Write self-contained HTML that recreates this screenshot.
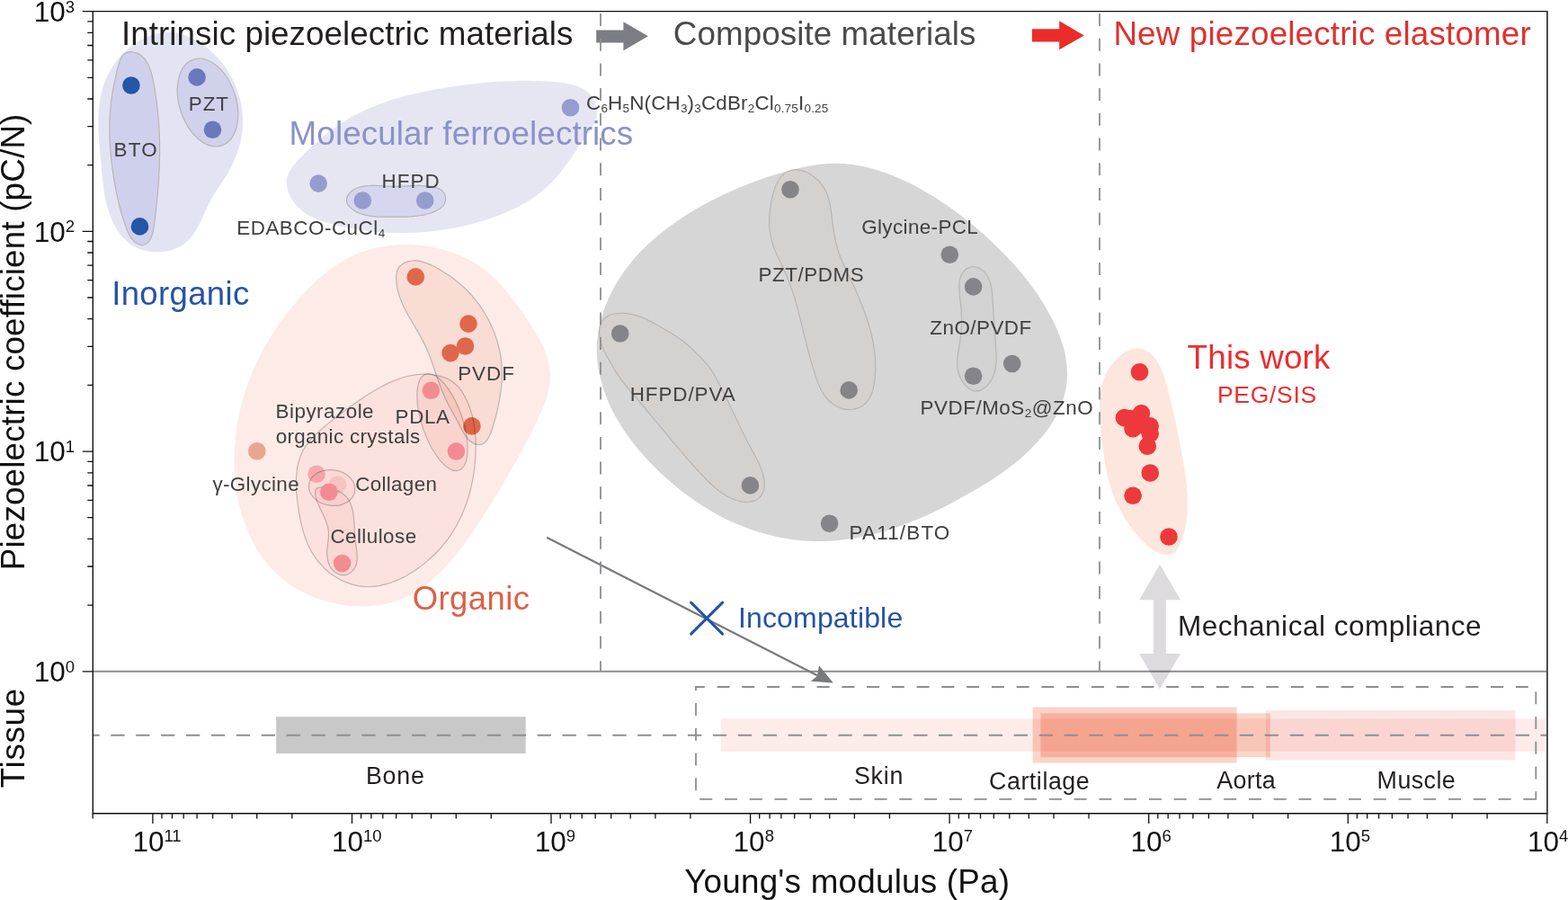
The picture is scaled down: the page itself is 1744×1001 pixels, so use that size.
<!DOCTYPE html>
<html><head><meta charset="utf-8"><title>Piezoelectric coefficient vs Young's modulus</title>
<style>
html,body{margin:0;padding:0;background:#fff;}
body{width:1744px;height:1001px;overflow:hidden;}
svg{display:block;font-family:'Liberation Sans', Arial, Helvetica, sans-serif;font-variant-ligatures:none;}
</style></head>
<body>
<svg width="1744" height="1001" viewBox="0 0 1744 1001">
<rect width="1744" height="1001" fill="#fff"/>
<path d="M185.5,36 C187.8,36 190,36.1 192.3,36.3 C194.5,36.6 196.8,36.9 199,37.4 C201.2,37.9 203.5,38.6 205.6,39.3 C207.8,40.1 210,40.9 212.2,41.9 C214.3,42.9 216.4,44 218.5,45.1 C220.6,46.3 222.6,47.6 224.6,49 C226.7,50.3 228.6,51.8 230.5,53.3 C232.4,54.9 234.3,56.5 236.1,58.2 C237.9,59.8 239.7,61.6 241.4,63.4 C243,65.2 244.7,67.1 246.2,69 C247.8,70.9 249.2,72.8 250.6,74.8 C252.1,76.8 253.4,78.9 254.6,81 C255.9,83.1 257.1,85.2 258.2,87.3 C259.3,89.5 260.4,91.7 261.3,93.9 C262.3,96.1 263.2,98.4 264,100.6 C264.8,102.9 265.5,105.2 266.2,107.5 C266.8,109.8 267.4,112.1 267.9,114.4 C268.4,116.8 268.8,119.1 269.1,121.5 C269.4,123.8 269.7,126.2 269.8,128.5 C270,130.9 270.1,133.2 270.1,135.6 C270.1,138 270,140.3 269.8,142.6 C269.6,145 269.4,147.3 269,149.6 C268.7,152 268.3,154.3 267.8,156.6 C267.3,158.8 266.7,161.1 266,163.4 C265.4,165.6 264.7,167.9 263.9,170.1 C263.1,172.3 262.2,174.5 261.3,176.7 C260.4,178.8 259.4,181 258.4,183.1 C257.4,185.2 256.3,187.3 255.1,189.4 C254,191.5 252.8,193.5 251.6,195.5 C250.4,197.5 249.1,199.4 247.8,201.4 C246.5,203.4 245.2,205.3 243.9,207.2 C242.6,209.2 241.2,211.2 240,213.2 C238.7,215.2 237.5,217.2 236.3,219.3 C235.1,221.4 234,223.5 232.9,225.7 C231.8,227.9 230.7,230.1 229.7,232.3 C228.7,234.5 227.7,236.8 226.6,239 C225.6,241.2 224.6,243.5 223.5,245.7 C222.5,247.8 221.4,250 220.2,252.1 C219.1,254.2 217.9,256.2 216.6,258.1 C215.4,260.1 214,262 212.6,263.7 C211.2,265.5 209.6,267.1 208,268.6 C206.3,270.1 204.5,271.5 202.6,272.8 C200.7,274 198.7,275.1 196.6,276 C194.4,276.9 192.2,277.7 189.9,278.4 C187.6,279 185.2,279.5 182.8,279.8 C180.4,280.1 178,280.3 175.5,280.3 C173.1,280.4 170.6,280.2 168.2,280 C165.8,279.7 163.3,279.3 161,278.7 C158.6,278.1 156.3,277.3 154.1,276.4 C151.8,275.6 149.7,274.5 147.6,273.3 C145.6,272.1 143.7,270.7 141.9,269.2 C140.1,267.7 138.4,266.1 136.8,264.3 C135.2,262.6 133.7,260.7 132.3,258.8 C130.9,256.8 129.6,254.7 128.4,252.6 C127.2,250.5 126.1,248.3 125.1,246.1 C124.1,243.8 123.1,241.5 122.3,239.2 C121.4,236.9 120.7,234.5 120,232.1 C119.3,229.8 118.7,227.4 118.1,225.1 C117.5,222.7 117.1,220.4 116.6,218.1 C116.2,215.8 115.8,213.5 115.5,211.2 C115.2,208.9 114.9,206.6 114.6,204.3 C114.3,202 114.1,199.7 113.9,197.4 C113.6,195.1 113.4,192.8 113.2,190.5 C113,188.2 112.8,185.9 112.6,183.5 C112.4,181.2 112.1,178.8 111.9,176.4 C111.7,174.1 111.4,171.7 111.2,169.3 C111,166.9 110.8,164.5 110.6,162 C110.4,159.6 110.2,157.2 110,154.8 C109.9,152.4 109.7,149.9 109.6,147.5 C109.5,145.1 109.5,142.7 109.4,140.2 C109.4,137.8 109.4,135.4 109.4,133 C109.5,130.6 109.5,128.2 109.7,125.8 C109.8,123.4 110,121 110.2,118.6 C110.5,116.3 110.8,113.9 111.2,111.6 C111.5,109.2 112,106.9 112.5,104.6 C113,102.3 113.6,100 114.3,97.7 C114.9,95.5 115.7,93.2 116.5,91 C117.4,88.8 118.3,86.6 119.3,84.5 C120.3,82.3 121.5,80.2 122.7,78.1 C123.9,76 125.2,73.9 126.6,71.9 C128,69.9 129.5,68 131,66.1 C132.6,64.2 134.2,62.3 135.9,60.6 C137.6,58.8 139.4,57.1 141.2,55.4 C143,53.8 144.9,52.3 146.9,50.8 C148.8,49.3 150.8,47.9 152.8,46.7 C154.9,45.4 157,44.2 159.1,43.1 C161.2,42 163.3,41.1 165.5,40.2 C167.7,39.4 169.9,38.6 172.1,38 C174.3,37.4 176.5,37 178.8,36.6 C181,36.3 183.3,36.1 185.5,36Z" fill="#e3e4f3"/>
<path d="M148.6,58.1 C150.2,58.3 151.7,58.8 153.1,59.4 C154.5,60.1 155.8,60.8 157,61.7 C158.2,62.6 159.3,63.7 160.3,64.8 C161.3,66 162.2,67.3 163,68.6 C163.9,70 164.6,71.5 165.3,73 C166,74.5 166.7,76.2 167.2,77.8 C167.8,79.5 168.3,81.3 168.8,83 C169.3,84.8 169.7,86.7 170.1,88.5 C170.5,90.3 170.9,92.2 171.2,94.1 C171.5,95.9 171.9,97.8 172.2,99.7 C172.5,101.5 172.7,103.4 173,105.2 C173.3,107 173.5,108.8 173.8,110.6 C174,112.4 174.3,114.2 174.5,116 C174.7,117.8 174.9,119.5 175.1,121.3 C175.3,123 175.5,124.8 175.6,126.5 C175.8,128.2 176,129.9 176.1,131.7 C176.3,133.4 176.4,135.1 176.5,136.8 C176.6,138.5 176.8,140.2 176.9,141.9 C177,143.5 177,145.2 177.1,146.9 C177.2,148.6 177.3,150.3 177.3,151.9 C177.4,153.6 177.4,155.3 177.5,157 C177.5,158.6 177.5,160.3 177.6,162 C177.6,163.6 177.6,165.3 177.6,167 C177.6,168.7 177.6,170.3 177.6,172 C177.5,173.7 177.5,175.4 177.5,177.1 C177.4,178.7 177.4,180.4 177.3,182.1 C177.3,183.8 177.2,185.5 177.2,187.2 C177.1,188.9 177,190.7 176.9,192.4 C176.8,194.1 176.7,195.8 176.6,197.5 C176.5,199.2 176.4,201 176.3,202.7 C176.2,204.4 176.1,206.2 175.9,207.9 C175.8,209.6 175.7,211.4 175.5,213.1 C175.4,214.9 175.2,216.6 175.1,218.4 C174.9,220.1 174.7,221.9 174.5,223.7 C174.4,225.4 174.2,227.2 174,228.9 C173.8,230.7 173.6,232.5 173.4,234.3 C173.2,236 173,237.8 172.8,239.6 C172.6,241.4 172.4,243.2 172.1,245 C171.9,246.7 171.7,248.5 171.4,250.3 C171.2,252.1 171,253.9 170.6,255.7 C170.3,257.4 169.9,259.1 169.4,260.7 C168.9,262.4 168.3,264 167.6,265.4 C166.8,266.8 165.8,268.2 164.7,269.3 C163.6,270.4 162.3,271.5 160.9,272 C159.6,272.5 158,272.7 156.5,272.5 C155,272.2 153.4,271.5 152,270.6 C150.7,269.8 149.3,268.6 148.2,267.3 C147,266.1 145.9,264.6 145,263.1 C144,261.6 143.2,259.9 142.4,258.2 C141.6,256.5 140.9,254.7 140.2,252.9 C139.6,251.2 139,249.4 138.4,247.6 C137.8,245.9 137.2,244.1 136.7,242.4 C136.2,240.7 135.6,239 135.2,237.4 C134.7,235.7 134.2,234.1 133.8,232.4 C133.3,230.8 132.9,229.2 132.5,227.5 C132.1,225.9 131.7,224.3 131.3,222.7 C131,221.1 130.6,219.4 130.3,217.8 C129.9,216.2 129.6,214.6 129.2,212.9 C128.9,211.3 128.6,209.6 128.3,207.9 C128,206.2 127.7,204.6 127.4,202.9 C127.1,201.2 126.8,199.5 126.5,197.7 C126.2,196 126,194.3 125.7,192.6 C125.5,190.8 125.2,189.1 125,187.4 C124.8,185.6 124.5,183.9 124.3,182.1 C124.1,180.4 123.9,178.6 123.7,176.8 C123.6,175.1 123.4,173.3 123.2,171.6 C123.1,169.8 122.9,168.1 122.8,166.3 C122.6,164.5 122.5,162.8 122.4,161 C122.3,159.3 122.2,157.5 122.1,155.8 C122.1,154.1 122,152.3 122,150.6 C121.9,148.9 121.9,147.1 121.9,145.4 C121.8,143.7 121.8,142 121.9,140.3 C121.9,138.6 121.9,136.9 122,135.3 C122,133.6 122.1,131.9 122.2,130.3 C122.2,128.6 122.3,126.9 122.5,125.3 C122.6,123.6 122.7,122 122.9,120.3 C123,118.6 123.2,117 123.4,115.3 C123.6,113.7 123.8,112 124,110.3 C124.3,108.6 124.5,107 124.8,105.3 C125,103.6 125.3,101.9 125.6,100.1 C125.9,98.4 126.3,96.7 126.6,95 C126.9,93.2 127.3,91.5 127.7,89.7 C128.1,87.9 128.5,86.1 128.9,84.3 C129.3,82.4 129.8,80.6 130.2,78.7 C130.7,76.9 131.2,74.9 131.7,73.1 C132.2,71.2 132.8,69.2 133.5,67.5 C134.1,65.8 134.9,64 135.8,62.7 C136.7,61.3 137.8,60.1 139.1,59.3 C140.4,58.4 142,58 143.6,57.8 C145.2,57.6 147,57.8 148.6,58.1Z" fill="#cfd1ec" stroke="#b9b5b4" stroke-width="1.2"/>
<ellipse cx="231" cy="114" rx="31.5" ry="50.4" transform="rotate(-18 231 114)" fill="#d0d2ec" stroke="#b9b5b4" stroke-width="1.2"/>
<path d="M318.7,204.7 C318.5,201.7 318.9,198.8 319.7,196 C320.5,193.3 321.9,190.7 323.4,188.2 C325,185.6 327,183.2 329,180.9 C331,178.5 333.3,176.2 335.6,174 C337.8,171.7 340.1,169.5 342.3,167.3 C344.6,165.1 346.9,163 349.2,160.9 C351.6,158.8 353.9,156.7 356.3,154.7 C358.6,152.7 361,150.7 363.4,148.8 C365.8,146.9 368.3,145 370.8,143.2 C373.2,141.4 375.7,139.7 378.3,138 C380.8,136.3 383.4,134.7 386,133.1 C388.6,131.5 391.2,130 393.9,128.6 C396.5,127.2 399.2,125.8 402,124.5 C404.7,123.1 407.5,121.9 410.2,120.7 C413,119.4 415.8,118.3 418.7,117.2 C421.5,116.1 424.4,115 427.3,114 C430.1,113 433,112 435.9,111.1 C438.9,110.2 441.8,109.3 444.7,108.5 C447.7,107.6 450.7,106.8 453.6,106.1 C456.6,105.3 459.6,104.6 462.6,103.9 C465.6,103.2 468.6,102.5 471.6,101.9 C474.6,101.3 477.6,100.7 480.7,100.1 C483.7,99.5 486.7,99 489.7,98.5 C492.8,98 495.8,97.5 498.8,97 C501.8,96.5 504.9,96 507.9,95.6 C510.9,95.2 513.9,94.7 516.9,94.4 C519.9,94 523,93.6 526,93.2 C529,92.9 532,92.5 535,92.2 C538.1,91.9 541.1,91.7 544.1,91.4 C547.1,91.2 550.2,90.9 553.2,90.7 C556.2,90.5 559.3,90.4 562.3,90.2 C565.4,90.1 568.4,90 571.5,89.9 C574.5,89.8 577.6,89.8 580.7,89.8 C583.7,89.7 586.8,89.8 589.9,89.8 C593,89.9 596.1,90 599.2,90.1 C602.3,90.2 605.5,90.4 608.6,90.6 C611.8,90.8 614.9,91 618.1,91.3 C621.2,91.6 624.4,91.8 627.5,92.3 C630.6,92.7 633.8,93.2 636.7,94 C639.6,94.8 642.5,95.6 645.2,96.9 C647.8,98.1 650.3,99.5 652.6,101.3 C654.8,103.2 656.8,105.3 658.5,107.9 C660.2,110.4 661.7,113.6 662.5,116.6 C663.4,119.7 663.9,123 663.8,126 C663.8,129 663.1,131.8 662.2,134.6 C661.2,137.3 659.8,139.9 658.3,142.5 C656.8,145.1 654.9,147.6 653.1,150.1 C651.3,152.7 649.3,155.2 647.5,157.8 C645.7,160.3 643.9,163 642.1,165.6 C640.3,168.2 638.5,170.8 636.7,173.4 C634.9,176 633.2,178.6 631.3,181.1 C629.5,183.7 627.7,186.2 625.8,188.7 C623.9,191.1 622,193.5 620,195.8 C618,198.2 616,200.4 613.8,202.6 C611.7,204.7 609.5,206.8 607.2,208.8 C605,210.8 602.7,212.7 600.3,214.6 C597.9,216.4 595.5,218.2 593,219.9 C590.5,221.6 587.9,223.2 585.4,224.7 C582.8,226.3 580.1,227.8 577.5,229.2 C574.8,230.6 572.1,232 569.3,233.3 C566.6,234.6 563.8,235.8 561,237 C558.2,238.2 555.4,239.3 552.5,240.4 C549.6,241.5 546.7,242.5 543.8,243.4 C540.9,244.4 538,245.3 535,246.2 C532.1,247.1 529.2,247.9 526.2,248.7 C523.2,249.5 520.2,250.2 517.3,250.9 C514.3,251.6 511.3,252.3 508.3,252.9 C505.3,253.5 502.2,254.1 499.2,254.6 C496.2,255.1 493.2,255.6 490.1,256 C487.1,256.5 484.1,256.8 481,257.2 C478,257.5 474.9,257.8 471.8,258.1 C468.8,258.3 465.7,258.5 462.7,258.7 C459.6,258.9 456.5,259 453.5,259 C450.4,259.1 447.3,259.1 444.2,259.1 C441.2,259.1 438.1,259 435,258.9 C432,258.8 428.9,258.6 425.8,258.4 C422.7,258.2 419.7,258 416.6,257.7 C413.5,257.4 410.5,257 407.4,256.7 C404.4,256.3 401.3,255.8 398.2,255.4 C395.2,254.9 392.2,254.3 389.1,253.8 C386.1,253.2 383,252.6 380,251.9 C377,251.3 374,250.6 371,249.8 C368,249 365,248.2 362,247.3 C359.1,246.4 356.2,245.4 353.4,244.3 C350.6,243.1 347.8,241.9 345.2,240.5 C342.6,239.1 340,237.5 337.7,235.8 C335.3,234 333,232.1 331,229.9 C328.9,227.7 327,225.3 325.3,222.7 C323.6,220 322,217 320.9,213.9 C319.8,210.9 318.9,207.6 318.7,204.7Z" fill="#e6e6f3"/>
<path d="M385.6,224.3 C385.4,223.5 385.4,222.6 385.5,221.8 C385.6,220.9 385.8,220.1 386.1,219.2 C386.4,218.4 386.9,217.6 387.3,216.8 C387.8,216 388.4,215.2 389,214.5 C389.7,213.8 390.4,213.1 391.1,212.5 C391.9,211.9 392.7,211.3 393.5,210.9 C394.3,210.4 395.2,209.9 396.1,209.5 C397,209.2 398,208.8 398.9,208.5 C399.9,208.2 400.8,208 401.8,207.7 C402.8,207.5 403.8,207.3 404.7,207.2 C405.7,207 406.7,206.9 407.6,206.7 C408.6,206.6 409.6,206.5 410.5,206.5 C411.5,206.4 412.4,206.4 413.3,206.3 C414.3,206.3 415.2,206.3 416.1,206.3 C417.1,206.3 418,206.3 418.9,206.4 C419.9,206.4 420.8,206.4 421.7,206.5 C422.6,206.5 423.5,206.6 424.4,206.7 C425.4,206.7 426.3,206.8 427.2,206.8 C428.1,206.9 429,207 429.9,207 C430.8,207.1 431.7,207.1 432.6,207.2 C433.5,207.2 434.4,207.3 435.3,207.3 C436.2,207.3 437.2,207.4 438.1,207.4 C439,207.4 439.9,207.4 440.8,207.4 C441.7,207.4 442.6,207.3 443.5,207.3 C444.4,207.3 445.3,207.2 446.3,207.2 C447.2,207.2 448.1,207.1 449,207.1 C449.9,207 450.8,207 451.8,206.9 C452.7,206.9 453.6,206.8 454.5,206.8 C455.5,206.7 456.4,206.7 457.3,206.6 C458.3,206.6 459.2,206.6 460.1,206.5 C461.1,206.5 462,206.5 463,206.5 C463.9,206.4 464.9,206.4 465.8,206.4 C466.8,206.4 467.7,206.5 468.7,206.5 C469.6,206.5 470.6,206.6 471.6,206.6 C472.5,206.7 473.5,206.8 474.5,206.9 C475.4,207 476.4,207.1 477.4,207.2 C478.4,207.3 479.4,207.5 480.4,207.7 C481.4,207.8 482.4,208 483.3,208.3 C484.3,208.5 485.3,208.8 486.2,209.1 C487.1,209.4 488,209.7 488.9,210.2 C489.7,210.6 490.5,211 491.2,211.6 C491.9,212.1 492.5,212.7 493,213.4 C493.6,214.1 494,214.8 494.4,215.6 C494.8,216.3 495,217.2 495.2,218 C495.4,218.8 495.6,219.7 495.6,220.5 C495.6,221.3 495.6,222.1 495.5,222.9 C495.3,223.7 495.1,224.5 494.9,225.2 C494.6,225.9 494.3,226.6 493.9,227.3 C493.5,227.9 493,228.5 492.5,229.2 C492,229.8 491.4,230.3 490.7,230.9 C490.1,231.4 489.4,231.9 488.7,232.4 C488,232.9 487.2,233.4 486.4,233.8 C485.6,234.3 484.7,234.7 483.8,235.1 C483,235.5 482,235.9 481.1,236.2 C480.2,236.6 479.2,236.9 478.2,237.2 C477.2,237.5 476.2,237.8 475.2,238 C474.2,238.3 473.2,238.5 472.1,238.8 C471.1,239 470,239.2 469,239.4 C467.9,239.6 466.9,239.8 465.9,239.9 C464.8,240.1 463.8,240.2 462.8,240.3 C461.8,240.4 460.7,240.6 459.8,240.6 C458.8,240.7 457.8,240.8 456.9,240.9 C455.9,241 455,241 454.1,241.1 C453.2,241.1 452.3,241.1 451.4,241.2 C450.5,241.2 449.6,241.2 448.8,241.2 C447.9,241.2 447.1,241.2 446.2,241.2 C445.4,241.2 444.5,241.2 443.6,241.2 C442.8,241.2 441.9,241.2 441.1,241.2 C440.2,241.2 439.3,241.2 438.4,241.2 C437.6,241.2 436.7,241.2 435.7,241.2 C434.8,241.2 433.9,241.2 433,241.2 C432,241.2 431.1,241.2 430.1,241.2 C429.2,241.2 428.2,241.2 427.3,241.2 C426.3,241.2 425.3,241.2 424.4,241.2 C423.4,241.1 422.4,241.1 421.4,241.1 C420.5,241 419.5,241 418.5,240.9 C417.5,240.8 416.5,240.7 415.6,240.6 C414.6,240.6 413.6,240.4 412.7,240.3 C411.7,240.2 410.7,240 409.8,239.9 C408.8,239.7 407.9,239.5 407,239.3 C406,239.1 405.1,238.9 404.2,238.6 C403.3,238.4 402.4,238.1 401.5,237.8 C400.6,237.5 399.8,237.1 398.9,236.8 C398.1,236.4 397.2,236 396.4,235.6 C395.6,235.2 394.8,234.7 394,234.2 C393.3,233.7 392.5,233.2 391.8,232.6 C391.1,232.1 390.3,231.5 389.7,230.9 C389,230.2 388.4,229.6 387.8,228.9 C387.3,228.2 386.8,227.4 386.4,226.7 C386,225.9 385.7,225.1 385.6,224.3Z" fill="#d6d7ee" stroke="#b9b5b4" stroke-width="1.2"/>
<path d="M463.4,272.4 C467.7,272.7 472.1,273.2 476.3,273.9 C480.6,274.6 484.8,275.4 489,276.5 C493.2,277.5 497.3,278.7 501.3,280.1 C505.3,281.5 509.3,283 513.1,284.8 C517,286.5 520.8,288.4 524.4,290.5 C528.1,292.6 531.7,294.9 535.1,297.3 C538.6,299.7 541.9,302.3 545.1,305.1 C548.3,307.9 551.4,310.8 554.4,313.9 C557.4,317 560.2,320.2 563,323.5 C565.8,326.9 568.5,330.3 571.2,333.9 C573.8,337.4 576.4,341 579,344.6 C581.5,348.3 584.1,352 586.6,355.7 C589.1,359.4 591.6,363.2 593.9,367 C596.2,370.7 598.5,374.5 600.6,378.4 C602.6,382.2 604.5,386.1 606,390 C607.6,393.9 608.9,397.9 609.9,401.8 C610.8,405.8 611.4,409.9 611.7,413.9 C611.9,418 611.8,422 611.4,426.1 C610.9,430.2 610.1,434.3 609,438.4 C607.9,442.5 606.5,446.6 605,450.7 C603.4,454.8 601.6,458.9 599.8,463 C598,467 596,471.1 594,475.1 C592,479.1 590,483.1 588,487 C585.9,491 583.8,494.9 581.8,498.7 C579.7,502.5 577.6,506.3 575.6,510 C573.5,513.8 571.5,517.4 569.4,521.1 C567.3,524.7 565.3,528.3 563.2,531.9 C561.1,535.5 559,539.1 556.9,542.7 C554.7,546.2 552.6,549.8 550.4,553.4 C548.2,557 546,560.6 543.7,564.2 C541.4,567.9 539.1,571.5 536.8,575.2 C534.4,578.9 532,582.6 529.6,586.3 C527.1,590 524.6,593.7 522,597.4 C519.5,601 516.8,604.7 514.1,608.2 C511.4,611.8 508.7,615.3 505.9,618.7 C503,622.2 500.1,625.5 497.1,628.8 C494.2,632 491.1,635.1 488,638.1 C484.8,641.1 481.6,644 478.3,646.7 C475,649.5 471.6,652 468.1,654.4 C464.6,656.8 461.1,659 457.4,661 C453.7,663 449.9,664.8 446,666.4 C442.2,667.9 438.2,669.3 434.1,670.4 C430,671.5 425.8,672.3 421.6,673 C417.4,673.6 413.1,674.1 408.8,674.3 C404.5,674.5 400.1,674.5 395.7,674.3 C391.4,674.1 387,673.6 382.6,673 C378.3,672.4 373.9,671.6 369.6,670.6 C365.4,669.6 361.1,668.4 356.9,667 C352.8,665.6 348.6,664 344.6,662.3 C340.6,660.5 336.7,658.6 332.9,656.5 C329.1,654.4 325.4,652.2 321.9,649.7 C318.4,647.3 315,644.7 311.8,642 C308.6,639.2 305.6,636.3 302.7,633.3 C299.8,630.3 297.1,627.1 294.6,623.8 C292,620.5 289.6,617.1 287.4,613.6 C285.1,610 283,606.4 281.1,602.6 C279.1,598.9 277.3,595.1 275.7,591.1 C274,587.2 272.5,583.2 271.1,579.1 C269.7,575.1 268.5,570.9 267.4,566.7 C266.3,562.5 265.4,558.3 264.6,554 C263.7,549.7 263.1,545.3 262.5,540.9 C261.9,536.6 261.5,532.2 261.2,527.7 C260.9,523.3 260.7,518.9 260.7,514.5 C260.6,510 260.7,505.6 260.9,501.2 C261.1,496.8 261.4,492.3 261.8,488 C262.2,483.6 262.8,479.2 263.4,474.9 C264.1,470.6 264.8,466.3 265.7,462 C266.6,457.8 267.5,453.6 268.6,449.4 C269.7,445.3 270.9,441.1 272.2,437 C273.4,432.9 274.8,428.9 276.3,424.9 C277.8,420.9 279.4,416.9 281,413 C282.7,409.1 284.5,405.2 286.3,401.3 C288.2,397.5 290.1,393.7 292.1,389.9 C294.1,386.2 296.3,382.5 298.4,378.8 C300.6,375.1 302.9,371.5 305.3,367.9 C307.6,364.3 310,360.8 312.6,357.3 C315.1,353.8 317.6,350.4 320.3,347 C322.9,343.6 325.7,340.3 328.4,337 C331.2,333.7 334.1,330.4 337,327.2 C339.9,324.1 342.9,320.9 346,317.9 C349.1,314.8 352.2,311.8 355.4,309 C358.7,306.1 362,303.4 365.4,300.8 C368.8,298.2 372.3,295.7 375.9,293.4 C379.5,291.1 383.2,288.9 387,286.9 C390.8,285 394.8,283.2 398.8,281.6 C402.8,280.1 407,278.7 411.2,277.5 C415.3,276.3 419.6,275.3 424,274.5 C428.3,273.7 432.7,273.1 437,272.7 C441.4,272.3 445.9,272.1 450.2,272 C454.6,272 459,272.1 463.4,272.4Z" fill="#fdebe7"/>
<path d="M453.8,290.9 C455.5,290.4 457.3,290.2 459.1,290 C460.9,289.9 462.7,290 464.6,290.2 C466.4,290.4 468.2,290.8 470,291.3 C471.9,291.8 473.7,292.4 475.5,293.1 C477.4,293.8 479.2,294.6 481,295.5 C482.8,296.3 484.6,297.3 486.4,298.3 C488.1,299.3 489.9,300.3 491.6,301.4 C493.3,302.4 494.9,303.5 496.5,304.6 C498.2,305.7 499.7,306.7 501.3,307.8 C502.8,308.9 504.3,310 505.8,311.1 C507.2,312.2 508.7,313.3 510.1,314.5 C511.5,315.6 512.8,316.8 514.2,318 C515.5,319.1 516.8,320.4 518.1,321.6 C519.4,322.9 520.7,324.2 521.9,325.5 C523.2,326.8 524.4,328.2 525.6,329.6 C526.8,331 528,332.4 529.1,333.8 C530.3,335.3 531.4,336.8 532.5,338.3 C533.6,339.8 534.7,341.3 535.7,342.9 C536.7,344.5 537.7,346.1 538.7,347.7 C539.7,349.3 540.6,350.9 541.6,352.5 C542.5,354.2 543.4,355.9 544.2,357.6 C545.1,359.2 545.9,360.9 546.6,362.7 C547.4,364.4 548.2,366.1 548.9,367.9 C549.6,369.6 550.3,371.4 550.9,373.1 C551.5,374.9 552.1,376.7 552.7,378.5 C553.2,380.3 553.8,382 554.2,383.8 C554.7,385.6 555.1,387.4 555.5,389.2 C555.9,391 556.3,392.9 556.6,394.7 C556.9,396.5 557.2,398.3 557.4,400.1 C557.6,401.9 557.8,403.7 557.9,405.5 C558.1,407.3 558.2,409.2 558.2,411 C558.3,412.8 558.3,414.6 558.3,416.4 C558.3,418.3 558.3,420.1 558.2,421.9 C558.1,423.8 558,425.6 557.8,427.5 C557.7,429.3 557.5,431.1 557.3,433 C557.1,434.9 556.8,436.7 556.5,438.6 C556.3,440.4 556,442.3 555.6,444.2 C555.3,446.1 554.9,448 554.5,449.8 C554.2,451.7 553.7,453.6 553.3,455.5 C552.9,457.4 552.4,459.4 551.9,461.3 C551.4,463.2 550.9,465.1 550.3,467.1 C549.8,469 549.3,471 548.7,472.9 C548.1,474.9 547.5,476.8 546.8,478.7 C546.2,480.5 545.5,482.4 544.7,484 C543.9,485.7 543.1,487.3 542.2,488.6 C541.3,490 540.3,491.2 539.2,492.1 C538.1,493 536.9,493.8 535.6,494.2 C534.3,494.6 532.8,494.7 531.3,494.4 C529.8,494.2 528.1,493.7 526.5,492.9 C525,492.1 523.4,491 522.1,489.8 C520.7,488.6 519.5,487.1 518.3,485.5 C517.1,484 516.1,482.2 515.1,480.5 C514,478.7 513.1,476.8 512.1,475 C511.2,473.2 510.3,471.3 509.4,469.5 C508.4,467.7 507.5,465.9 506.6,464.2 C505.6,462.5 504.7,460.8 503.8,459.2 C502.9,457.5 502,455.9 501.1,454.3 C500.2,452.6 499.3,451 498.5,449.4 C497.6,447.8 496.8,446.2 496,444.6 C495.2,442.9 494.5,441.3 493.7,439.6 C493,437.9 492.3,436.3 491.6,434.6 C491,432.9 490.3,431.2 489.7,429.5 C489,427.8 488.4,426 487.8,424.3 C487.2,422.6 486.6,420.8 486,419.1 C485.4,417.4 484.8,415.6 484.2,413.9 C483.6,412.1 483,410.4 482.4,408.6 C481.8,406.9 481.2,405.1 480.6,403.4 C480,401.6 479.3,399.9 478.7,398.2 C478,396.4 477.4,394.7 476.7,393 C476,391.2 475.2,389.5 474.5,387.8 C473.7,386.1 472.9,384.4 472.1,382.7 C471.3,381 470.4,379.3 469.5,377.6 C468.7,376 467.7,374.3 466.8,372.6 C465.9,371 464.9,369.3 464,367.7 C463,366 462,364.4 461.1,362.7 C460.1,361.1 459.1,359.4 458.2,357.8 C457.2,356.2 456.2,354.5 455.3,352.9 C454.4,351.2 453.4,349.6 452.6,347.9 C451.7,346.2 450.8,344.6 450,342.9 C449.2,341.2 448.4,339.6 447.6,337.9 C446.9,336.2 446.1,334.5 445.5,332.8 C444.8,331 444.2,329.3 443.7,327.6 C443.2,325.8 442.7,324.1 442.3,322.3 C441.9,320.5 441.6,318.7 441.3,316.9 C441.1,315.1 440.9,313.2 440.8,311.4 C440.7,309.5 440.7,307.6 440.9,305.8 C441.1,304 441.3,302.1 442,300.5 C442.6,298.9 443.5,297.4 444.6,296.2 C445.7,294.9 447.2,293.8 448.8,292.9 C450.3,292.1 452.1,291.4 453.8,290.9Z" fill="#f8d9d0" fill-opacity="0.85" stroke="#b9b5b4" stroke-width="1.2"/>
<circle cx="462.3" cy="307.9" r="9.8" fill="#e0674b"/>
<circle cx="521" cy="360.1" r="9.8" fill="#e0674b"/>
<circle cx="517.5" cy="385" r="9.8" fill="#e0674b"/>
<circle cx="501" cy="392.6" r="9.8" fill="#e0674b"/>
<circle cx="524.9" cy="473.9" r="9.8" fill="#e0674b"/>
<path d="M474.1,416.2 C476.6,416.3 479.2,416.5 481.8,416.8 C484.3,417.2 486.9,417.7 489.3,418.3 C491.8,419 494.2,419.8 496.5,420.8 C498.8,421.8 501,423 503,424.4 C505,425.8 506.9,427.3 508.6,429.1 C510.3,430.8 511.9,432.8 513.3,434.8 C514.7,436.8 515.9,439 517.1,441.2 C518.3,443.4 519.4,445.7 520.3,448 C521.3,450.3 522.2,452.7 523,455.1 C523.8,457.5 524.5,459.9 525.2,462.4 C525.8,464.8 526.3,467.3 526.8,469.9 C527.3,472.4 527.7,474.9 528,477.5 C528.3,480.1 528.6,482.6 528.8,485.2 C529,487.8 529.1,490.4 529.1,493.1 C529.2,495.7 529.2,498.3 529.1,500.9 C529.1,503.5 528.9,506.1 528.8,508.7 C528.6,511.4 528.4,514 528.1,516.5 C527.9,519.1 527.5,521.7 527.2,524.2 C526.8,526.8 526.4,529.3 526,531.8 C525.5,534.3 525,536.8 524.5,539.3 C524,541.7 523.4,544.2 522.8,546.6 C522.1,549 521.5,551.4 520.7,553.8 C520,556.2 519.2,558.5 518.4,560.8 C517.6,563.2 516.7,565.5 515.8,567.7 C514.9,570 513.9,572.3 512.9,574.5 C511.8,576.7 510.7,578.9 509.6,581.1 C508.5,583.2 507.3,585.4 506,587.5 C504.8,589.6 503.5,591.7 502.1,593.8 C500.8,595.8 499.3,597.8 497.9,599.8 C496.4,601.8 494.8,603.8 493.3,605.7 C491.7,607.7 490,609.6 488.3,611.5 C486.6,613.3 484.8,615.2 482.9,617 C481.1,618.8 479.2,620.6 477.2,622.3 C475.2,624 473.2,625.8 471.1,627.4 C469.1,629.1 466.9,630.7 464.7,632.2 C462.6,633.7 460.3,635.2 458.1,636.6 C455.8,638.1 453.5,639.4 451.2,640.7 C448.8,641.9 446.5,643.1 444.1,644.2 C441.7,645.3 439.3,646.3 436.8,647.2 C434.4,648.1 431.9,648.9 429.5,649.6 C427,650.3 424.6,650.8 422.1,651.3 C419.6,651.7 417.1,652.1 414.7,652.3 C412.2,652.5 409.7,652.5 407.2,652.5 C404.8,652.4 402.3,652.2 399.9,651.8 C397.5,651.4 395.1,650.9 392.7,650.3 C390.3,649.6 387.9,648.8 385.6,647.9 C383.3,647 381.1,646 378.8,644.8 C376.6,643.7 374.4,642.4 372.3,641.1 C370.2,639.7 368.2,638.2 366.2,636.7 C364.2,635.1 362.3,633.4 360.5,631.7 C358.7,629.9 357,628.1 355.3,626.2 C353.7,624.2 352.1,622.2 350.7,620.2 C349.3,618.1 347.9,616 346.7,613.8 C345.4,611.6 344.3,609.4 343.2,607.1 C342.1,604.8 341.2,602.4 340.3,600 C339.4,597.6 338.5,595.2 337.8,592.7 C337,590.3 336.3,587.8 335.7,585.2 C335.1,582.7 334.5,580.1 334,577.6 C333.5,575 333,572.4 332.6,569.8 C332.2,567.2 331.8,564.6 331.4,562 C331.1,559.4 330.7,556.8 330.5,554.2 C330.2,551.6 329.9,549 329.8,546.4 C329.6,543.8 329.5,541.3 329.4,538.7 C329.4,536.2 329.4,533.7 329.6,531.2 C329.7,528.7 329.9,526.2 330.2,523.7 C330.5,521.3 330.9,518.9 331.5,516.5 C332,514.2 332.6,511.8 333.4,509.6 C334.2,507.3 335.1,505.1 336.1,502.9 C337.2,500.7 338.4,498.6 339.7,496.5 C341.1,494.5 342.6,492.5 344.3,490.5 C345.9,488.6 347.7,486.7 349.5,484.9 C351.3,483 353.3,481.2 355.2,479.5 C357.1,477.7 359.1,476 361.1,474.3 C363.1,472.7 365.1,471 367.1,469.4 C369.1,467.8 371.2,466.2 373.2,464.7 C375.2,463.1 377.1,461.6 379.1,460.1 C381.1,458.6 383.1,457.1 385.1,455.6 C387.1,454.1 389.1,452.7 391.1,451.3 C393.1,449.8 395.1,448.4 397.2,447 C399.2,445.5 401.3,444.1 403.4,442.7 C405.5,441.3 407.7,439.9 409.8,438.5 C412,437.2 414.2,435.8 416.4,434.5 C418.6,433.2 420.8,431.9 423.1,430.7 C425.4,429.4 427.7,428.2 430,427.1 C432.3,426 434.6,424.9 437,423.9 C439.4,423 441.8,422 444.2,421.2 C446.6,420.4 449,419.6 451.5,419 C453.9,418.4 456.4,417.8 458.9,417.4 C461.4,416.9 463.9,416.6 466.4,416.4 C468.9,416.2 471.5,416.1 474.1,416.2Z" fill="#fef6f5" style="mix-blend-mode:multiply" stroke="#c6c2c1" stroke-width="1.2"/>
<circle cx="375.5" cy="539" r="9.8" fill="#f6b9bb" fill-opacity="0.6"/>
<circle cx="352.1" cy="527.3" r="9.8" fill="#f3a0a6" fill-opacity="0.85"/>
<ellipse cx="492" cy="469.6" rx="22.5" ry="56.5" transform="rotate(-19 492 469.6)" fill="#fcf0ee" style="mix-blend-mode:multiply" stroke="#c6c2c1" stroke-width="1.2"/>
<path d="M351.7,544 C352.1,543.5 352.6,543.2 353.2,542.9 C353.7,542.6 354.4,542.4 355.2,542.2 C355.9,542.1 356.7,542 357.6,541.9 C358.4,541.9 359.4,541.9 360.3,542 C361.3,542 362.3,542.2 363.3,542.3 C364.3,542.5 365.3,542.7 366.3,542.9 C367.3,543.1 368.3,543.4 369.3,543.6 C370.3,543.9 371.3,544.2 372.2,544.6 C373.2,544.9 374.1,545.3 375,545.7 C376,546.1 376.8,546.5 377.7,546.9 C378.5,547.4 379.4,547.9 380.2,548.4 C381,548.9 381.7,549.4 382.4,550 C383.1,550.6 383.8,551.2 384.4,551.8 C385.1,552.5 385.7,553.1 386.2,553.8 C386.7,554.5 387.2,555.2 387.7,556 C388.2,556.7 388.6,557.5 389,558.2 C389.4,559 389.7,559.8 390.1,560.6 C390.4,561.5 390.7,562.3 391,563.1 C391.2,564 391.5,564.8 391.7,565.7 C391.9,566.5 392.1,567.4 392.3,568.3 C392.5,569.1 392.7,570 392.8,570.9 C392.9,571.8 393.1,572.6 393.2,573.5 C393.3,574.4 393.4,575.2 393.5,576.1 C393.6,577 393.6,577.8 393.7,578.7 C393.8,579.6 393.8,580.5 393.9,581.3 C394,582.2 394,583.1 394,584 C394.1,584.8 394.1,585.7 394.2,586.6 C394.2,587.5 394.3,588.4 394.3,589.3 C394.3,590.2 394.4,591.1 394.4,592 C394.5,592.9 394.5,593.8 394.6,594.7 C394.7,595.6 394.7,596.5 394.8,597.4 C394.9,598.4 395,599.3 395.1,600.2 C395.2,601.2 395.3,602.1 395.4,603 C395.5,604 395.7,605 395.8,605.9 C395.9,606.9 396.1,607.8 396.2,608.8 C396.3,609.8 396.5,610.7 396.6,611.7 C396.7,612.6 396.8,613.6 396.9,614.5 C397,615.5 397.1,616.4 397.1,617.4 C397.2,618.3 397.2,619.2 397.2,620.2 C397.2,621.1 397.2,622 397.1,622.9 C397,623.8 396.9,624.6 396.7,625.5 C396.6,626.4 396.4,627.2 396.1,628 C395.9,628.9 395.5,629.7 395.2,630.4 C394.8,631.2 394.4,632 393.9,632.7 C393.4,633.4 392.8,634.1 392.2,634.8 C391.6,635.4 391,636 390.3,636.6 C389.6,637.1 388.9,637.6 388.2,638 C387.4,638.5 386.6,638.8 385.8,639.1 C385,639.3 384.2,639.5 383.4,639.6 C382.5,639.7 381.7,639.7 380.8,639.7 C380,639.6 379.1,639.4 378.3,639.2 C377.5,639 376.6,638.7 375.8,638.3 C375,637.9 374.2,637.5 373.4,637 C372.7,636.5 371.9,636 371.3,635.3 C370.6,634.7 369.9,634.1 369.3,633.4 C368.7,632.7 368.2,631.9 367.7,631.1 C367.2,630.3 366.8,629.5 366.4,628.7 C366,627.8 365.7,626.9 365.4,626 C365.1,625.1 364.9,624.2 364.7,623.3 C364.5,622.3 364.3,621.4 364.2,620.4 C364.1,619.5 364,618.5 363.9,617.5 C363.8,616.6 363.8,615.6 363.8,614.7 C363.8,613.7 363.8,612.8 363.9,611.8 C363.9,610.9 364,610 364.1,609.1 C364.1,608.2 364.2,607.3 364.3,606.5 C364.4,605.6 364.5,604.7 364.7,603.9 C364.8,603 364.9,602.2 365,601.3 C365.1,600.5 365.2,599.6 365.3,598.8 C365.3,597.9 365.4,597.1 365.5,596.3 C365.5,595.4 365.5,594.6 365.5,593.7 C365.5,592.9 365.5,592 365.4,591.2 C365.3,590.3 365.2,589.4 365.1,588.6 C364.9,587.7 364.8,586.8 364.5,585.9 C364.3,585 364.1,584.1 363.8,583.2 C363.5,582.3 363.2,581.4 362.8,580.5 C362.5,579.6 362.1,578.7 361.8,577.8 C361.4,576.9 361,575.9 360.6,575 C360.2,574.1 359.8,573.2 359.3,572.3 C358.9,571.4 358.5,570.5 358.1,569.6 C357.6,568.7 357.2,567.8 356.8,566.9 C356.4,566 355.9,565.1 355.5,564.2 C355.1,563.3 354.7,562.4 354.4,561.6 C354,560.7 353.6,559.9 353.3,559 C352.9,558.2 352.6,557.3 352.3,556.5 C352,555.7 351.8,554.9 351.6,554.1 C351.3,553.3 351.1,552.6 351,551.8 C350.8,551 350.7,550.3 350.6,549.6 C350.6,548.9 350.5,548.1 350.6,547.5 C350.6,546.8 350.7,546.1 350.9,545.6 C351.1,545 351.3,544.4 351.7,544Z" fill="#fcf3f3" style="mix-blend-mode:multiply" stroke="#c6c2c1" stroke-width="1.2"/>
<ellipse cx="369.2" cy="542.5" rx="25.8" ry="19.8" transform="rotate(8 369.2 542.5)" fill="#fdf6f7" style="mix-blend-mode:multiply" stroke="#c6c2c1" stroke-width="1.2"/>
<path d="M930.3,181.8 C935.6,181.8 940.9,182.2 946.2,182.8 C951.5,183.4 956.7,184.3 961.9,185.5 C967.1,186.6 972.3,188.1 977.5,189.7 C982.6,191.3 987.7,193.2 992.7,195.2 C997.8,197.2 1002.7,199.4 1007.6,201.8 C1012.6,204.1 1017.4,206.6 1022.1,209.2 C1026.9,211.8 1031.6,214.5 1036.2,217.3 C1040.7,220.1 1045.2,223.1 1049.7,226.1 C1054.1,229.1 1058.5,232.2 1062.8,235.3 C1067.1,238.5 1071.3,241.8 1075.5,245.1 C1079.7,248.5 1083.8,251.9 1087.9,255.3 C1091.9,258.8 1095.9,262.3 1099.9,266 C1103.8,269.6 1107.7,273.2 1111.5,277 C1115.3,280.8 1119.1,284.6 1122.7,288.5 C1126.4,292.4 1130,296.4 1133.4,300.5 C1136.9,304.6 1140.3,308.8 1143.6,313 C1146.8,317.3 1150,321.6 1153.1,326.1 C1156.1,330.5 1159,335.1 1161.8,339.7 C1164.6,344.4 1167.3,349.2 1169.8,354 C1172.3,358.9 1174.7,363.8 1176.7,368.9 C1178.8,373.9 1180.7,379 1182.2,384.1 C1183.7,389.3 1184.9,394.5 1185.7,399.7 C1186.5,404.9 1187,410.2 1187,415.5 C1187,420.7 1186.5,426.1 1185.7,431.3 C1184.8,436.5 1183.5,441.7 1181.8,446.7 C1180,451.8 1177.8,456.7 1175.3,461.5 C1172.9,466.3 1169.9,470.9 1166.9,475.4 C1163.8,479.9 1160.4,484.2 1156.8,488.3 C1153.3,492.4 1149.6,496.3 1145.8,500.1 C1142,503.8 1138.1,507.4 1134.1,510.8 C1130,514.3 1125.8,517.5 1121.6,520.7 C1117.3,523.9 1113,526.9 1108.6,529.9 C1104.1,532.9 1099.6,535.7 1095.1,538.6 C1090.5,541.4 1085.9,544.1 1081.2,546.8 C1076.5,549.6 1071.8,552.2 1067.1,554.8 C1062.3,557.4 1057.5,560 1052.7,562.5 C1047.8,564.9 1042.9,567.4 1038,569.7 C1033.1,572 1028.1,574.2 1023.2,576.4 C1018.2,578.5 1013.1,580.5 1008.1,582.5 C1003,584.4 997.9,586.2 992.8,587.9 C987.7,589.6 982.6,591.1 977.4,592.5 C972.2,594 967,595.2 961.8,596.4 C956.6,597.5 951.4,598.5 946.1,599.3 C940.9,600.1 935.6,600.7 930.3,601.2 C925.1,601.6 919.8,601.9 914.5,602 C909.2,602.1 903.8,602 898.5,601.7 C893.2,601.4 887.9,600.9 882.5,600.2 C877.2,599.5 871.9,598.6 866.6,597.5 C861.4,596.4 856.1,595.2 850.9,593.7 C845.7,592.3 840.5,590.7 835.4,588.9 C830.3,587.2 825.3,585.2 820.3,583.1 C815.3,581 810.5,578.8 805.6,576.4 C800.8,574 796.1,571.4 791.5,568.8 C786.9,566.1 782.3,563.3 777.8,560.3 C773.4,557.4 769,554.3 764.7,551.1 C760.4,547.9 756.1,544.6 752,541.2 C747.8,537.8 743.8,534.3 739.8,530.7 C735.8,527 731.9,523.3 728,519.5 C724.2,515.7 720.5,511.8 716.9,507.8 C713.2,503.8 709.7,499.7 706.4,495.5 C703,491.3 699.7,487 696.7,482.6 C693.6,478.2 690.7,473.7 687.9,469.1 C685.2,464.5 682.6,459.8 680.3,455 C677.9,450.2 675.8,445.3 673.9,440.3 C672,435.3 670.3,430.2 668.9,425 C667.5,419.8 666.3,414.6 665.4,409.3 C664.6,404 664,398.7 663.8,393.3 C663.7,388 663.8,382.7 664.3,377.4 C664.8,372.1 665.7,366.8 666.8,361.5 C668,356.3 669.5,351.1 671.2,346 C673,340.9 675,335.9 677.2,331 C679.5,326 682,321.2 684.7,316.5 C687.4,311.8 690.3,307.3 693.4,302.9 C696.5,298.5 699.8,294.3 703.2,290.2 C706.7,286.1 710.3,282.1 714,278.3 C717.8,274.5 721.7,270.8 725.7,267.3 C729.7,263.8 733.8,260.3 738,257 C742.3,253.7 746.6,250.6 751,247.5 C755.4,244.4 759.9,241.5 764.4,238.6 C768.9,235.7 773.5,233 778.2,230.3 C782.8,227.6 787.5,225.1 792.3,222.6 C797,220.1 801.9,217.8 806.7,215.5 C811.6,213.2 816.5,211.1 821.4,209 C826.4,206.9 831.4,204.9 836.4,203 C841.5,201.1 846.6,199.3 851.7,197.6 C856.8,195.9 862,194.2 867.1,192.7 C872.3,191.2 877.6,189.7 882.8,188.4 C888,187.1 893.3,185.8 898.6,184.9 C903.9,183.9 909.2,183.1 914.5,182.5 C919.7,182 925.1,181.7 930.3,181.8Z" fill="#d7d6d6"/>
<path d="M690.1,348.3 C692.3,348.2 694.6,348.3 696.8,348.6 C699,348.8 701.1,349.2 703.3,349.7 C705.4,350.1 707.5,350.8 709.6,351.4 C711.7,352.1 713.7,352.9 715.8,353.8 C717.8,354.7 719.8,355.6 721.8,356.6 C723.8,357.6 725.8,358.6 727.8,359.7 C729.7,360.7 731.7,361.8 733.6,362.9 C735.5,364 737.4,365.1 739.2,366.2 C741.1,367.3 743,368.4 744.8,369.5 C746.6,370.7 748.5,371.8 750.2,373 C752,374.1 753.8,375.3 755.6,376.5 C757.3,377.8 759,379 760.7,380.4 C762.4,381.7 764.1,383.1 765.8,384.5 C767.4,385.9 769,387.4 770.6,388.9 C772.2,390.4 773.8,392 775.4,393.6 C776.9,395.1 778.5,396.7 780,398.3 C781.5,399.9 783,401.5 784.5,403.2 C785.9,404.8 787.3,406.4 788.6,408.2 C790,409.9 791.2,411.6 792.4,413.4 C793.6,415.3 794.7,417.1 795.7,419 C796.8,420.9 797.8,422.8 798.8,424.8 C799.9,426.7 800.8,428.6 801.8,430.5 C802.8,432.5 803.8,434.4 804.8,436.4 C805.7,438.3 806.7,440.3 807.6,442.2 C808.6,444.2 809.5,446.1 810.5,448.1 C811.4,450 812.4,452 813.3,454 C814.3,455.9 815.2,457.9 816.1,459.9 C817.1,461.8 818,463.8 818.9,465.7 C819.9,467.7 820.8,469.7 821.8,471.6 C822.7,473.6 823.7,475.6 824.6,477.5 C825.6,479.5 826.5,481.4 827.5,483.4 C828.5,485.3 829.4,487.3 830.4,489.2 C831.4,491.2 832.4,493.1 833.4,495.1 C834.5,497 835.5,499 836.5,500.9 C837.6,502.8 838.6,504.7 839.6,506.7 C840.7,508.6 841.7,510.6 842.7,512.5 C843.6,514.5 844.6,516.5 845.4,518.5 C846.3,520.6 847.1,522.6 847.8,524.8 C848.4,526.9 849.1,529.1 849.5,531.3 C849.9,533.5 850.3,535.8 850.3,538 C850.3,540.2 850.2,542.4 849.7,544.4 C849.2,546.4 848.5,548.4 847.4,550.1 C846.4,551.8 845,553.3 843.4,554.6 C841.9,555.8 840,556.8 838,557.4 C836.1,558.1 833.9,558.4 831.8,558.5 C829.6,558.6 827.3,558.4 825.1,558.1 C822.9,557.7 820.6,557.1 818.4,556.3 C816.2,555.6 814.1,554.7 812.1,553.7 C810,552.7 808,551.6 806.1,550.4 C804.2,549.3 802.3,548 800.6,546.7 C798.8,545.4 797.1,544 795.4,542.6 C793.8,541.2 792.2,539.8 790.6,538.3 C789.1,536.8 787.5,535.3 786,533.8 C784.5,532.2 783,530.7 781.6,529.1 C780.1,527.5 778.6,526 777.1,524.4 C775.7,522.8 774.2,521.2 772.8,519.6 C771.3,518 769.9,516.4 768.4,514.7 C767,513.1 765.5,511.5 764.1,509.9 C762.7,508.2 761.2,506.6 759.8,504.9 C758.4,503.3 757,501.6 755.6,499.9 C754.1,498.3 752.7,496.6 751.3,494.9 C749.9,493.3 748.5,491.6 747.1,489.9 C745.7,488.2 744.3,486.6 742.9,484.9 C741.5,483.2 740.1,481.5 738.7,479.8 C737.3,478.1 735.9,476.4 734.5,474.7 C733.1,473 731.7,471.4 730.3,469.7 C728.9,468 727.5,466.3 726.1,464.6 C724.7,462.9 723.3,461.2 721.9,459.5 C720.5,457.9 719.1,456.2 717.7,454.5 C716.3,452.8 714.9,451.1 713.5,449.5 C712.1,447.8 710.7,446.1 709.3,444.5 C707.9,442.8 706.5,441.2 705.1,439.5 C703.7,437.9 702.2,436.2 700.8,434.6 C699.4,432.9 698,431.3 696.7,429.6 C695.3,428 693.9,426.3 692.6,424.6 C691.3,422.9 690,421.1 688.8,419.4 C687.6,417.6 686.4,415.8 685.2,414 C684.1,412.1 683,410.3 681.9,408.4 C680.8,406.5 679.8,404.6 678.7,402.7 C677.6,400.8 676.4,398.8 675.4,396.9 C674.3,395 673.2,393 672.3,391 C671.3,389 670.4,387 669.6,384.9 C668.9,382.8 668.2,380.6 667.7,378.4 C667.2,376.2 666.8,373.9 666.7,371.7 C666.6,369.5 666.6,367.3 666.9,365.2 C667.3,363.1 667.8,361 668.7,359.2 C669.5,357.4 670.7,355.8 672.1,354.4 C673.6,353 675.3,351.8 677.2,350.9 C679.1,350 681.3,349.4 683.4,349 C685.6,348.5 687.9,348.3 690.1,348.3Z" fill="#d5d1cf" stroke="#b9b5b4" stroke-width="1.2"/>
<path d="M883.4,188.8 C885.6,188.6 887.8,188.7 890,189.1 C892.2,189.5 894.4,190.3 896.5,191.2 C898.7,192.1 900.8,193.3 902.8,194.7 C904.8,196 906.8,197.6 908.5,199.3 C910.3,200.9 912,202.8 913.5,204.7 C915,206.6 916.3,208.6 917.4,210.6 C918.6,212.6 919.5,214.7 920.3,216.8 C921.1,218.9 921.7,221 922.2,223.2 C922.8,225.4 923.2,227.6 923.6,229.8 C924,232 924.3,234.2 924.6,236.5 C924.9,238.8 925.2,241 925.5,243.3 C925.8,245.6 926,247.9 926.3,250.1 C926.6,252.4 926.9,254.7 927.3,257 C927.7,259.3 928,261.5 928.4,263.8 C928.9,266 929.3,268.3 929.9,270.5 C930.4,272.7 931,274.9 931.6,277.1 C932.3,279.2 933,281.3 933.8,283.5 C934.6,285.6 935.5,287.6 936.4,289.7 C937.3,291.8 938.3,293.8 939.2,295.9 C940.2,298 941.2,300 942.1,302.1 C943.1,304.1 944.1,306.2 945.1,308.3 C946,310.3 947,312.4 948,314.5 C948.9,316.6 949.9,318.7 950.8,320.8 C951.7,322.9 952.7,325 953.6,327.1 C954.5,329.2 955.4,331.3 956.3,333.4 C957.2,335.5 958,337.6 958.9,339.8 C959.7,341.9 960.5,344.1 961.3,346.2 C962.1,348.3 962.9,350.5 963.6,352.7 C964.4,354.8 965.1,357 965.8,359.2 C966.4,361.4 967.1,363.6 967.7,365.7 C968.3,367.9 968.9,370.1 969.4,372.4 C969.9,374.6 970.4,376.8 970.8,379 C971.3,381.3 971.7,383.5 972,385.8 C972.4,388 972.7,390.3 972.9,392.6 C973.2,394.8 973.4,397.1 973.5,399.4 C973.6,401.7 973.7,404 973.7,406.3 C973.7,408.6 973.7,411 973.6,413.3 C973.5,415.6 973.3,418 973.1,420.4 C972.9,422.7 972.6,425.1 972.2,427.4 C971.8,429.7 971.3,432.1 970.6,434.3 C970,436.5 969.2,438.6 968.3,440.6 C967.3,442.6 966.2,444.5 964.9,446.2 C963.6,447.9 962,449.4 960.3,450.7 C958.5,452 956.5,453.1 954.4,453.9 C952.3,454.7 950,455.3 947.7,455.5 C945.4,455.8 943,455.7 940.7,455.4 C938.4,455.1 936.1,454.4 934,453.6 C931.8,452.7 929.7,451.6 927.7,450.3 C925.8,449 924,447.6 922.3,446 C920.6,444.4 919.1,442.6 917.8,440.8 C916.4,439 915.2,437 914.1,435 C912.9,433 911.9,430.8 911,428.7 C910,426.5 909.2,424.3 908.4,422.1 C907.6,419.9 906.9,417.6 906.2,415.4 C905.4,413.1 904.7,410.9 904.1,408.7 C903.4,406.5 902.7,404.2 902.1,402 C901.5,399.8 900.9,397.6 900.3,395.4 C899.7,393.2 899.1,391 898.5,388.8 C897.9,386.6 897.3,384.4 896.8,382.2 C896.2,380 895.7,377.8 895.1,375.6 C894.6,373.4 894.1,371.2 893.5,369 C893,366.8 892.5,364.6 891.9,362.4 C891.4,360.2 890.9,358 890.3,355.8 C889.8,353.6 889.2,351.4 888.6,349.2 C888.1,347 887.5,344.8 886.9,342.6 C886.3,340.4 885.7,338.2 885.1,336 C884.5,333.8 883.8,331.6 883.1,329.4 C882.5,327.3 881.8,325.1 881,322.9 C880.3,320.8 879.5,318.6 878.7,316.5 C878,314.3 877.1,312.2 876.3,310.1 C875.4,307.9 874.5,305.8 873.5,303.7 C872.6,301.6 871.6,299.5 870.6,297.5 C869.7,295.4 868.6,293.3 867.7,291.2 C866.7,289.1 865.7,287.1 864.8,285 C863.8,282.9 862.9,280.8 862.1,278.7 C861.2,276.6 860.4,274.5 859.7,272.3 C859,270.2 858.4,268 857.9,265.8 C857.3,263.7 856.9,261.5 856.6,259.2 C856.2,257 856,254.8 855.8,252.5 C855.7,250.2 855.6,247.9 855.6,245.7 C855.7,243.4 855.8,241 855.9,238.7 C856.1,236.4 856.3,234.1 856.7,231.7 C857,229.4 857.3,227 857.8,224.7 C858.2,222.3 858.7,219.9 859.3,217.6 C859.9,215.3 860.5,212.9 861.3,210.7 C862.1,208.4 862.9,206.2 863.9,204.2 C864.9,202.2 866,200.2 867.3,198.5 C868.6,196.7 870,195.1 871.7,193.8 C873.3,192.5 875.2,191.3 877.1,190.5 C879.1,189.6 881.3,189 883.4,188.8Z" fill="#d5d1cf" stroke="#b9b5b4" stroke-width="1.2"/>
<path d="M1082.9,296.5 C1084,296.5 1085.1,296.7 1086.2,297 C1087.3,297.3 1088.4,297.8 1089.5,298.4 C1090.5,299 1091.5,299.7 1092.5,300.4 C1093.4,301.2 1094.4,302.1 1095.2,303 C1096,304 1096.8,305 1097.5,306 C1098.2,307 1098.8,308.1 1099.4,309.1 C1099.9,310.2 1100.4,311.3 1100.8,312.4 C1101.2,313.5 1101.6,314.7 1101.9,315.8 C1102.2,317 1102.4,318.2 1102.6,319.3 C1102.9,320.5 1103,321.7 1103.2,322.9 C1103.3,324.1 1103.4,325.3 1103.5,326.5 C1103.6,327.7 1103.7,328.9 1103.8,330 C1103.9,331.2 1104,332.4 1104,333.6 C1104.1,334.8 1104.2,335.9 1104.2,337.1 C1104.3,338.2 1104.4,339.4 1104.5,340.5 C1104.5,341.7 1104.6,342.8 1104.7,343.9 C1104.8,345.1 1104.8,346.2 1104.9,347.3 C1105,348.5 1105,349.6 1105.1,350.7 C1105.2,351.8 1105.3,353 1105.3,354.1 C1105.4,355.2 1105.5,356.3 1105.6,357.5 C1105.6,358.6 1105.7,359.7 1105.8,360.9 C1105.9,362 1105.9,363.1 1106,364.3 C1106.1,365.4 1106.2,366.5 1106.3,367.7 C1106.3,368.8 1106.4,370 1106.5,371.1 C1106.6,372.3 1106.7,373.5 1106.8,374.6 C1106.9,375.8 1106.9,377 1107,378.2 C1107.1,379.4 1107.2,380.6 1107.3,381.8 C1107.4,383 1107.5,384.2 1107.6,385.5 C1107.7,386.7 1107.7,387.9 1107.8,389.1 C1107.9,390.4 1107.9,391.6 1108,392.8 C1108,394.1 1108.1,395.3 1108.1,396.5 C1108.1,397.8 1108.1,399 1108,400.2 C1108,401.4 1107.9,402.6 1107.9,403.8 C1107.8,405 1107.7,406.2 1107.5,407.4 C1107.4,408.5 1107.2,409.7 1107,410.8 C1106.8,412 1106.5,413.1 1106.2,414.2 C1105.9,415.3 1105.6,416.4 1105.2,417.4 C1104.8,418.5 1104.4,419.5 1103.9,420.5 C1103.4,421.5 1102.9,422.5 1102.3,423.5 C1101.7,424.4 1101.1,425.3 1100.4,426.2 C1099.7,427.1 1099,428 1098.1,428.8 C1097.3,429.6 1096.4,430.4 1095.5,431.1 C1094.5,431.8 1093.5,432.5 1092.5,433.1 C1091.5,433.6 1090.4,434.1 1089.4,434.4 C1088.3,434.7 1087.2,434.9 1086.2,434.9 C1085.2,435 1084.1,434.8 1083.1,434.6 C1082.1,434.4 1081.1,434 1080.1,433.5 C1079.1,433 1078.2,432.4 1077.2,431.7 C1076.3,431 1075.4,430.3 1074.6,429.4 C1073.8,428.6 1072.9,427.6 1072.2,426.7 C1071.4,425.7 1070.7,424.6 1070.1,423.6 C1069.4,422.5 1068.8,421.4 1068.3,420.2 C1067.8,419.1 1067.3,418 1066.9,416.8 C1066.5,415.7 1066.1,414.5 1065.9,413.3 C1065.6,412.2 1065.4,411 1065.2,409.8 C1065,408.7 1064.9,407.5 1064.9,406.3 C1064.8,405.1 1064.8,404 1064.8,402.8 C1064.8,401.6 1064.9,400.4 1064.9,399.2 C1065,398.1 1065.1,396.9 1065.3,395.7 C1065.4,394.5 1065.6,393.3 1065.7,392.2 C1065.9,391 1066.1,389.8 1066.3,388.6 C1066.4,387.5 1066.6,386.3 1066.8,385.1 C1067,384 1067.2,382.8 1067.4,381.7 C1067.6,380.5 1067.8,379.4 1067.9,378.3 C1068.1,377.1 1068.3,376 1068.4,374.9 C1068.5,373.7 1068.7,372.6 1068.8,371.5 C1068.9,370.4 1069,369.2 1069.1,368.1 C1069.2,367 1069.2,365.9 1069.3,364.8 C1069.4,363.6 1069.4,362.5 1069.5,361.4 C1069.5,360.3 1069.5,359.1 1069.5,358 C1069.5,356.9 1069.5,355.7 1069.5,354.6 C1069.5,353.4 1069.5,352.3 1069.4,351.1 C1069.4,350 1069.3,348.8 1069.3,347.6 C1069.2,346.4 1069.1,345.2 1069,344 C1068.9,342.8 1068.8,341.6 1068.7,340.4 C1068.5,339.1 1068.4,337.9 1068.3,336.6 C1068.1,335.4 1068,334.1 1067.8,332.8 C1067.7,331.6 1067.5,330.3 1067.4,329 C1067.3,327.8 1067.2,326.5 1067.1,325.2 C1067,324 1066.9,322.7 1066.9,321.5 C1066.8,320.3 1066.8,319.1 1066.8,317.9 C1066.9,316.7 1066.9,315.5 1067,314.4 C1067.2,313.2 1067.3,312.1 1067.5,311.1 C1067.8,310 1068,308.9 1068.4,308 C1068.7,307 1069.2,306 1069.6,305.1 C1070.1,304.2 1070.7,303.3 1071.3,302.5 C1072,301.7 1072.7,300.9 1073.6,300.3 C1074.4,299.6 1075.3,298.9 1076.3,298.4 C1077.3,297.8 1078.4,297.4 1079.5,297.1 C1080.6,296.8 1081.7,296.6 1082.9,296.5Z" fill="#d2d2d2" stroke="#b9b5b4" stroke-width="1.2"/>
<path d="M1269.7,387.7 C1271.5,388.1 1273.2,388.9 1274.8,389.8 C1276.5,390.7 1278.1,391.9 1279.6,393.2 C1281.1,394.5 1282.5,396 1283.8,397.5 C1285.1,399.1 1286.3,400.7 1287.3,402.4 C1288.4,404.1 1289.4,405.9 1290.3,407.7 C1291.2,409.5 1292,411.4 1292.8,413.2 C1293.5,415.1 1294.2,417 1294.8,418.9 C1295.5,420.9 1296.1,422.8 1296.6,424.8 C1297.2,426.7 1297.7,428.7 1298.2,430.6 C1298.8,432.6 1299.3,434.5 1299.8,436.4 C1300.3,438.4 1300.8,440.3 1301.2,442.2 C1301.7,444.1 1302.2,446 1302.7,447.9 C1303.1,449.9 1303.6,451.8 1304,453.7 C1304.5,455.6 1304.9,457.5 1305.3,459.4 C1305.8,461.3 1306.2,463.2 1306.6,465.1 C1307,467 1307.4,468.9 1307.8,470.8 C1308.2,472.7 1308.6,474.6 1309,476.5 C1309.4,478.4 1309.8,480.3 1310.2,482.2 C1310.5,484.1 1310.9,486 1311.3,487.9 C1311.7,489.8 1312,491.7 1312.4,493.7 C1312.7,495.6 1313.1,497.5 1313.5,499.4 C1313.8,501.4 1314.2,503.3 1314.5,505.3 C1314.9,507.2 1315.2,509.2 1315.6,511.1 C1315.9,513.1 1316.3,515.1 1316.6,517 C1316.9,519 1317.2,521 1317.5,523 C1317.8,525 1318.1,527 1318.4,528.9 C1318.7,530.9 1318.9,532.9 1319.2,534.9 C1319.4,536.9 1319.6,538.9 1319.8,540.9 C1320,542.9 1320.2,544.9 1320.3,546.9 C1320.5,548.9 1320.6,550.9 1320.7,552.9 C1320.8,554.9 1320.8,556.9 1320.8,558.9 C1320.8,560.9 1320.8,562.9 1320.7,564.9 C1320.7,566.9 1320.6,568.9 1320.4,570.9 C1320.3,572.8 1320.1,574.8 1319.9,576.8 C1319.7,578.8 1319.4,580.7 1319,582.7 C1318.7,584.7 1318.3,586.6 1317.9,588.6 C1317.5,590.5 1317,592.4 1316.4,594.4 C1315.9,596.3 1315.3,598.2 1314.6,600.1 C1314,602 1313.2,603.9 1312.4,605.6 C1311.6,607.4 1310.7,609 1309.6,610.5 C1308.6,611.9 1307.5,613.2 1306.2,614.3 C1304.9,615.3 1303.5,616.1 1301.9,616.5 C1300.3,617 1298.5,617.1 1296.7,617 C1294.9,616.8 1292.9,616.3 1291,615.7 C1289.1,615.1 1287.1,614.2 1285.3,613.2 C1283.4,612.3 1281.7,611.1 1280,609.9 C1278.3,608.7 1276.6,607.4 1275.1,606 C1273.5,604.6 1272,603.1 1270.6,601.5 C1269.1,600 1267.7,598.4 1266.3,596.8 C1265,595.2 1263.6,593.6 1262.3,592 C1261,590.4 1259.8,588.7 1258.6,587.1 C1257.3,585.5 1256.1,583.8 1255,582.2 C1253.8,580.5 1252.7,578.9 1251.7,577.2 C1250.6,575.5 1249.6,573.8 1248.6,572.1 C1247.6,570.4 1246.6,568.7 1245.7,567 C1244.8,565.3 1243.9,563.5 1243.1,561.8 C1242.3,560 1241.5,558.3 1240.7,556.5 C1240,554.7 1239.3,552.9 1238.6,551.1 C1237.9,549.3 1237.3,547.5 1236.7,545.7 C1236,543.9 1235.5,542 1234.9,540.2 C1234.3,538.4 1233.8,536.5 1233.3,534.6 C1232.8,532.8 1232.4,530.9 1231.9,529 C1231.5,527.1 1231,525.2 1230.6,523.3 C1230.3,521.4 1229.9,519.5 1229.5,517.6 C1229.2,515.6 1228.8,513.7 1228.5,511.8 C1228.2,509.8 1227.9,507.9 1227.6,505.9 C1227.3,503.9 1227.1,502 1226.8,500 C1226.6,498 1226.3,496 1226.1,494 C1225.9,492 1225.7,490 1225.4,488 C1225.2,486 1225,484 1224.8,482 C1224.7,480 1224.5,477.9 1224.3,475.9 C1224.1,473.8 1223.9,471.8 1223.8,469.8 C1223.7,467.7 1223.5,465.7 1223.4,463.6 C1223.3,461.6 1223.2,459.6 1223.2,457.5 C1223.1,455.5 1223.1,453.5 1223.1,451.5 C1223.2,449.5 1223.2,447.5 1223.3,445.5 C1223.5,443.5 1223.6,441.5 1223.8,439.5 C1224,437.6 1224.3,435.7 1224.6,433.7 C1225,431.8 1225.4,429.9 1225.8,428.1 C1226.3,426.2 1226.8,424.4 1227.4,422.5 C1228,420.7 1228.7,418.9 1229.5,417.2 C1230.3,415.4 1231.1,413.7 1232.1,412 C1233,410.4 1234,408.7 1235.2,407.1 C1236.3,405.5 1237.5,403.9 1238.9,402.4 C1240.2,400.9 1241.7,399.4 1243.2,398 C1244.7,396.6 1246.4,395.2 1248.1,394 C1249.7,392.8 1251.5,391.7 1253.3,390.8 C1255.1,389.8 1257,389 1258.8,388.4 C1260.6,387.9 1262.5,387.5 1264.3,387.3 C1266.1,387.2 1268,387.3 1269.7,387.7Z" fill="#fde6dd"/>
<circle cx="145.9" cy="95" r="9.8" fill="#2356a6"/>
<circle cx="155.5" cy="251.9" r="9.8" fill="#2356a6"/>
<circle cx="219.1" cy="85.9" r="9.8" fill="#6c78bc"/>
<circle cx="236.5" cy="144.3" r="9.8" fill="#6c78bc"/>
<circle cx="354.2" cy="204.1" r="9.8" fill="#959ccf"/>
<circle cx="403.3" cy="223" r="9.8" fill="#959ccf"/>
<circle cx="472.7" cy="223" r="9.8" fill="#959ccf"/>
<circle cx="634.5" cy="119.7" r="9.8" fill="#959ccf"/>
<circle cx="479.4" cy="434.2" r="9.8" fill="#f28c90"/>
<circle cx="507.4" cy="502" r="9.8" fill="#f28c90"/>
<circle cx="285.8" cy="501.8" r="9.8" fill="#e9a58d"/>
<circle cx="380.6" cy="626.5" r="9.8" fill="#f28c90"/>
<circle cx="365.8" cy="547.3" r="9.8" fill="#f28c90"/>
<circle cx="879" cy="210.7" r="9.8" fill="#858488"/>
<circle cx="689.7" cy="371" r="9.8" fill="#858488"/>
<circle cx="834.4" cy="539.9" r="9.8" fill="#858488"/>
<circle cx="944.2" cy="433.9" r="9.8" fill="#858488"/>
<circle cx="922.6" cy="582.2" r="9.8" fill="#858488"/>
<circle cx="1056.3" cy="283.3" r="9.8" fill="#858488"/>
<circle cx="1082.6" cy="318.9" r="9.8" fill="#858488"/>
<circle cx="1082.6" cy="418.2" r="9.8" fill="#858488"/>
<circle cx="1125.7" cy="404.5" r="9.8" fill="#858488"/>
<circle cx="1267.5" cy="413.8" r="9.8" fill="#ed393c"/>
<circle cx="1250.4" cy="464.6" r="9.8" fill="#ed393c"/>
<circle cx="1257.3" cy="465.5" r="9.8" fill="#ed393c"/>
<circle cx="1267.5" cy="472.5" r="9.8" fill="#ed393c"/>
<circle cx="1269.4" cy="459.7" r="9.8" fill="#ed393c"/>
<circle cx="1260" cy="476.8" r="9.8" fill="#ed393c"/>
<circle cx="1279.2" cy="473.9" r="9.8" fill="#ed393c"/>
<circle cx="1279.2" cy="482.2" r="9.8" fill="#ed393c"/>
<circle cx="1276.3" cy="496.2" r="9.8" fill="#ed393c"/>
<circle cx="1279.3" cy="526" r="9.8" fill="#ed393c"/>
<circle cx="1260.1" cy="551.2" r="9.8" fill="#ed393c"/>
<circle cx="1300" cy="597" r="9.8" fill="#ed393c"/>
<path d="M1290,627.7 L1313.1,667.2 L1296.8,667.2 L1296.8,726.9 L1313.1,726.9 L1290,766.4 L1267.1,726.9 L1282.9,726.9 L1282.9,667.2 L1267.1,667.2 Z" fill="#dddbdd"/>
<line x1="103.3" y1="746.8" x2="1720.8" y2="746.8" stroke="#8d8d8f" stroke-width="2" style="mix-blend-mode:multiply"/>
<rect x="307.1" y="797.2" width="277.6" height="40.9" fill="#c9c8c8"/>
<rect x="801.8" y="799.4" width="916.2" height="36.6" fill="#fdecea"/>
<rect x="1408" y="790" width="277.4" height="55.6" fill="#fce6e4" style="mix-blend-mode:multiply"/>
<rect x="1157.5" y="793.4" width="255.2" height="48.8" fill="#fbd5c8" style="mix-blend-mode:multiply"/>
<rect x="1148.6" y="786.5" width="227" height="62" fill="#fbd4c9" style="mix-blend-mode:multiply"/>
<line x1="103.3" y1="817.8" x2="1720.8" y2="817.8" stroke="#8d8e92" stroke-width="1.9" stroke-dasharray="15.3 12.6" stroke-dashoffset="7.9"/>
<path d="M1708.3,888.8 H774 V764 H1708.3 Z" fill="none" stroke="#8d8e92" stroke-width="1.8" stroke-dasharray="14 13.76"/>
<line x1="608.1" y1="597.7" x2="909" y2="751.2" stroke="#78797d" stroke-width="2.2"/>
<path d="M926.8,759.6 L901.8,757.7 L908.8,752 L911,740.3 Z" fill="#78797d"/>
<path d="M768.6,670.1 L803.6,705.1 M803.6,670.1 L768.6,705.1" stroke="#2553a5" stroke-width="3" stroke-linecap="round"/>
<path d="M663.2,33.5 L693.4,33.5 L693.4,24.2 L720.9,40.2 L693.4,56.2 L693.4,47.4 L663.2,47.4 Z" fill="#7c7d82"/>
<path d="M1147.9,32.2 L1178.2,32.2 L1178.2,23.2 L1205.8,39.5 L1178.2,55.2 L1178.2,46.4 L1147.9,46.4 Z" fill="#eb2c2b"/>
<path d="M102.6,12.6 H1720.8 M103.3,12.6 V904.8 H1721.6" fill="none" stroke="#111" stroke-width="1.4"/>
<line x1="1720.8999999999999" y1="11.9" x2="1720.8999999999999" y2="904.8" stroke="#303030" stroke-width="1.7"/>
<path d="M91.7,746.8 H103.3 M97.3,673.1 H103.3 M97.3,630 H103.3 M97.3,599.4 H103.3 M97.3,575.7 H103.3 M97.3,556.4 H103.3 M97.3,540 H103.3 M97.3,525.8 H103.3 M97.3,513.3 H103.3 M91.7,502.1 H103.3 M97.3,428.4 H103.3 M97.3,385.3 H103.3 M97.3,354.7 H103.3 M97.3,331 H103.3 M97.3,311.6 H103.3 M97.3,295.2 H103.3 M97.3,281 H103.3 M97.3,268.5 H103.3 M91.7,257.3 H103.3 M97.3,183.7 H103.3 M97.3,140.6 H103.3 M97.3,110 H103.3 M97.3,86.3 H103.3 M97.3,66.9 H103.3 M97.3,50.5 H103.3 M97.3,36.3 H103.3 M97.3,23.8 H103.3 M91.7,12.6 H103.3 M1720.8,904.8 V916.1 M1654.1,904.8 V910.6 M1615.1,904.8 V910.6 M1587.4,904.8 V910.6 M1566,904.8 V910.6 M1548.4,904.8 V910.6 M1533.6,904.8 V910.6 M1520.7,904.8 V910.6 M1509.4,904.8 V910.6 M1499.3,904.8 V916.1 M1432.6,904.8 V910.6 M1393.5,904.8 V910.6 M1365.9,904.8 V910.6 M1344.4,904.8 V910.6 M1326.9,904.8 V910.6 M1312,904.8 V910.6 M1299.2,904.8 V910.6 M1287.8,904.8 V910.6 M1277.7,904.8 V916.1 M1211,904.8 V910.6 M1172,904.8 V910.6 M1144.3,904.8 V910.6 M1122.8,904.8 V910.6 M1105.3,904.8 V910.6 M1090.5,904.8 V910.6 M1077.6,904.8 V910.6 M1066.3,904.8 V910.6 M1056.1,904.8 V916.1 M989.4,904.8 V910.6 M950.4,904.8 V910.6 M922.7,904.8 V910.6 M901.3,904.8 V910.6 M883.7,904.8 V910.6 M868.9,904.8 V910.6 M856.1,904.8 V910.6 M844.7,904.8 V910.6 M834.6,904.8 V916.1 M767.9,904.8 V910.6 M728.9,904.8 V910.6 M701.2,904.8 V910.6 M679.7,904.8 V910.6 M662.2,904.8 V910.6 M647.3,904.8 V910.6 M634.5,904.8 V910.6 M623.2,904.8 V910.6 M613,904.8 V916.1 M546.3,904.8 V910.6 M507.3,904.8 V910.6 M479.6,904.8 V910.6 M458.2,904.8 V910.6 M440.6,904.8 V910.6 M425.8,904.8 V910.6 M412.9,904.8 V910.6 M401.6,904.8 V910.6 M391.5,904.8 V916.1 M324.8,904.8 V910.6 M285.7,904.8 V910.6 M258.1,904.8 V910.6 M236.6,904.8 V910.6 M219.1,904.8 V910.6 M204.2,904.8 V910.6 M191.4,904.8 V910.6 M180,904.8 V910.6 M169.9,904.8 V916.1 M103.2,904.8 V910.6" stroke="#111" stroke-width="1.3" fill="none"/>
<text x="135.0" y="49.8" font-size="36.8" fill="#231f20" letter-spacing="0.04">Intrinsic piezoelectric materials</text>
<text x="748.8" y="49.8" font-size="36.8" fill="#4a4a4c" letter-spacing="0.07">Composite materials</text>
<text x="1238.4" y="49.8" font-size="36.8" fill="#e0312e" letter-spacing="0.16">New piezoelectric elastomer</text>
<text x="321.6" y="160.9" font-size="36.8" fill="#8a92c8" letter-spacing="0.10">Molecular ferroelectrics</text>
<text x="124.2" y="338.9" font-size="36.5" fill="#2553a5" letter-spacing="0.35">Inorganic</text>
<text x="458.8" y="677.8" font-size="36.5" fill="#de6147" letter-spacing="0.38">Organic</text>
<text x="1320.6" y="409.9" font-size="36.8" fill="#ec2d30" letter-spacing="0.17">This work</text>
<text x="1353.9" y="447.9" font-size="26.5" fill="#ec2d30" letter-spacing="0.72">PEG/SIS</text>
<text x="820.9" y="698.0" font-size="32.0" fill="#2553a5" letter-spacing="0.17">Incompatible</text>
<text x="1310.0" y="706.7" font-size="31.5" fill="#231f20" letter-spacing="0.51">Mechanical compliance</text>
<text x="126.6" y="173.7" font-size="22.4" fill="#404041" letter-spacing="1.20">BTO</text>
<text x="209.8" y="122.8" font-size="22.4" fill="#404041" letter-spacing="0.95">PZT</text>
<text x="424.5" y="209.4" font-size="22.4" fill="#404041" letter-spacing="1.07">HFPD</text>
<text x="263.3" y="260.8" font-size="22.4" fill="#404041" letter-spacing="0.51">EDABCO-CuCl<tspan font-size="13.5" dy="2.8">4</tspan></text>
<text x="652.0" y="122.1" font-size="22.4" fill="#404041" letter-spacing="0.19">C<tspan font-size="13.5" dy="2.8">6</tspan><tspan dy="-2.8">H</tspan><tspan font-size="13.5" dy="2.8">5</tspan><tspan dy="-2.8">N(CH</tspan><tspan font-size="13.5" dy="2.8">3</tspan><tspan dy="-2.8">)</tspan><tspan font-size="13.5" dy="2.8">3</tspan><tspan dy="-2.8">CdBr</tspan><tspan font-size="13.5" dy="2.8">2</tspan><tspan dy="-2.8">Cl</tspan><tspan font-size="13.5" dy="2.8">0.75</tspan><tspan dy="-2.8">I</tspan><tspan font-size="13.5" dy="2.8">0.25</tspan></text>
<text x="509.2" y="423.2" font-size="22.4" fill="#404041" letter-spacing="1.00">PVDF</text>
<text x="439.6" y="470.8" font-size="22.4" fill="#404041" letter-spacing="0.63">PDLA</text>
<text x="306.6" y="465.3" font-size="22.4" fill="#404041" letter-spacing="0.49">Bipyrazole</text>
<text x="306.7" y="493.0" font-size="22.4" fill="#404041" letter-spacing="0.33">organic crystals</text>
<text x="236.5" y="545.5" font-size="22.4" fill="#404041" letter-spacing="0.35">γ-Glycine</text>
<text x="395.2" y="545.5" font-size="22.4" fill="#404041" letter-spacing="0.33">Collagen</text>
<text x="367.4" y="604.4" font-size="22.4" fill="#404041" letter-spacing="0.45">Cellulose</text>
<text x="843.6" y="312.9" font-size="22.4" fill="#404041" letter-spacing="0.54">PZT/PDMS</text>
<text x="958.2" y="260.4" font-size="22.4" fill="#404041" letter-spacing="0.39">Glycine-PCL</text>
<text x="1034.3" y="371.5" font-size="22.4" fill="#404041" letter-spacing="0.49">ZnO/PVDF</text>
<text x="700.7" y="445.7" font-size="22.4" fill="#404041" letter-spacing="0.94">HFPD/PVA</text>
<text x="1023.6" y="461.0" font-size="22.4" fill="#404041" letter-spacing="0.53">PVDF/MoS<tspan font-size="13.5" dy="2.8">2</tspan><tspan dy="-2.8">@ZnO</tspan></text>
<text x="944.6" y="599.7" font-size="22.4" fill="#404041" letter-spacing="1.20">PA11/BTO</text>
<text x="406.9" y="871.7" font-size="26.8" fill="#231f20" letter-spacing="0.83">Bone</text>
<text x="949.9" y="872.0" font-size="26.8" fill="#231f20" letter-spacing="0.83">Skin</text>
<text x="1100.0" y="877.9" font-size="26.8" fill="#231f20" letter-spacing="0.56">Cartilage</text>
<text x="1353.3" y="876.8" font-size="26.8" fill="#231f20" letter-spacing="0.30">Aorta</text>
<text x="1531.6" y="876.8" font-size="26.8" fill="#231f20" letter-spacing="0.46">Muscle</text>
<text transform="rotate(-90)" x="-634.3" y="26.8" font-size="36.8" fill="#111111" letter-spacing="0.17">Piezoelectric coefficient (pC/N)</text>
<text transform="rotate(-90)" x="-876.2" y="26.8" font-size="36.8" fill="#111111" letter-spacing="0.68">Tissue</text>
<text x="761.2" y="992.8" font-size="36.8" fill="#111111" letter-spacing="0.23">Young's modulus (Pa)</text>
<text x="147.4" y="946.9" font-size="31.5" fill="#111">10<tspan font-size="18.5" dy="-10.6">11</tspan></text>
<text x="368.9" y="946.9" font-size="31.5" fill="#111">10<tspan font-size="18.5" dy="-10.6">10</tspan></text>
<text x="594.7" y="946.9" font-size="31.5" fill="#111">10<tspan font-size="18.5" dy="-10.6">9</tspan></text>
<text x="815.6" y="946.9" font-size="31.5" fill="#111">10<tspan font-size="18.5" dy="-10.6">8</tspan></text>
<text x="1036.8" y="946.9" font-size="31.5" fill="#111">10<tspan font-size="18.5" dy="-10.6">7</tspan></text>
<text x="1257.5" y="946.9" font-size="31.5" fill="#111">10<tspan font-size="18.5" dy="-10.6">6</tspan></text>
<text x="1478.8" y="946.9" font-size="31.5" fill="#111">10<tspan font-size="18.5" dy="-10.6">5</tspan></text>
<text x="1699.0" y="946.9" font-size="31.5" fill="#111">10<tspan font-size="18.5" dy="-10.6">4</tspan></text>
<text x="37.7" y="758.0" font-size="31.5" fill="#111">10<tspan font-size="18.5" dy="-10.3">0</tspan></text>
<text x="37.7" y="513.3" font-size="31.5" fill="#111">10<tspan font-size="18.5" dy="-10.3">1</tspan></text>
<text x="37.7" y="268.6" font-size="31.5" fill="#111">10<tspan font-size="18.5" dy="-10.3">2</tspan></text>
<text x="37.7" y="23.9" font-size="31.5" fill="#111">10<tspan font-size="18.5" dy="-10.3">3</tspan></text>
<line x1="668.0" y1="15" x2="668.0" y2="746.8" stroke="#8d8e92" stroke-width="1.8" stroke-dasharray="14 13.7"/>
<line x1="1223.0" y1="15" x2="1223.0" y2="746.8" stroke="#8d8e92" stroke-width="1.8" stroke-dasharray="14 13.7"/>
</svg>
</body></html>
